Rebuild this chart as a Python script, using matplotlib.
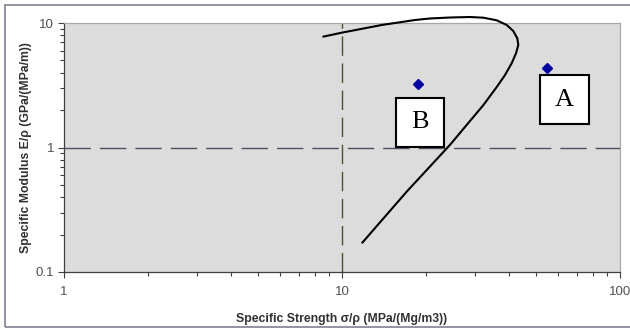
import matplotlib
matplotlib.use("Agg")
import matplotlib.pyplot as plt
from matplotlib.patches import Rectangle
from matplotlib.ticker import LogLocator, FixedLocator, NullFormatter

plt.rcParams['font.family'] = ['Liberation Sans', 'DejaVu Sans']

# Data points (specific strength, specific modulus)
point_labels = ["B", "A"]
point_x = [18.8, 54.6]
point_y = [3.24, 4.35]

# Hand-drawn envelope curve
curve_x = [8.51, 9.98, 13.90, 18.31, 20.73, 24.46, 28.87, 32.24, 36.02, 39.12,
           41.32, 42.71, 43.07, 42.26, 40.77, 38.58, 36.02, 32.24, 28.10, 24.46,
           17.09, 11.78]
curve_y = [7.75, 8.36, 9.64, 10.57, 10.87, 11.07, 11.17, 11.03, 10.51, 9.64,
           8.62, 7.54, 6.66, 5.71, 4.75, 3.82, 3.06, 2.19, 1.52, 1.05,
           0.442, 0.170]

# Label boxes (x0, x1, y0, y1) in data units
box_x0 = [15.65, 51.5]
box_x1 = [23.2, 77.4]
box_y0 = [1.01, 1.545]
box_y1 = [2.50, 3.82]

# Reference lines
ref_x = 10
ref_y = 1

x_ticks = [1, 10, 100]
y_ticks = [0.1, 1, 10]

fig = plt.figure(figsize=(6.3, 3.32), dpi=100)
ax = fig.add_axes([64/630, 1-272/332, (620-64)/630, (272-23)/332])
ax.set_xscale('log')
ax.set_yscale('log')
ax.set_xlim(1, 100)
ax.set_ylim(0.1, 10)
ax.set_facecolor('#dcdcdc')

ax.xaxis.set_major_locator(FixedLocator(x_ticks))
ax.yaxis.set_major_locator(FixedLocator(y_ticks))
ax.set_xticklabels([str(v) for v in x_ticks])
ax.set_yticklabels(['0.1', '1', '10'])
ax.xaxis.set_minor_locator(LogLocator(base=10, subs=range(2, 10)))
ax.yaxis.set_minor_locator(LogLocator(base=10, subs=range(2, 10)))
ax.xaxis.set_minor_formatter(NullFormatter())
ax.yaxis.set_minor_formatter(NullFormatter())

ax.tick_params(axis='both', which='major', direction='out', length=4, width=0.8,
               colors='#404040', labelsize=9.5, labelcolor='#505050')
ax.tick_params(axis='both', which='minor', direction='out', length=3, width=0.8,
               colors='#404040')
ax.tick_params(axis='x', which='major', pad=6)
ax.tick_params(axis='y', which='major', pad=3)

for s in ['left', 'bottom']:
    ax.spines[s].set_color('#404040')
    ax.spines[s].set_linewidth(0.9)
for s in ['top', 'right']:
    ax.spines[s].set_color('#a8a8a8')
    ax.spines[s].set_linewidth(0.9)

ax.axhline(ref_y, color='#505060', lw=1.0, dashes=(19, 6.5), zorder=2)
ax.axvline(ref_x, color='#505030', lw=1.0, dashes=(14, 5.5), zorder=2)

ax.plot(curve_x, curve_y, color='black', lw=1.5, clip_on=False, zorder=4,
        solid_capstyle='butt', solid_joinstyle='round')

ax.plot(point_x, point_y, linestyle='none', marker='D', markersize=5,
        color='#0000a0', zorder=5)

for lab, x0, x1, y0, y1 in zip(point_labels, box_x0, box_x1, box_y0, box_y1):
    ax.add_patch(Rectangle((x0, y0), x1 - x0, y1 - y0, facecolor='white',
                           edgecolor='black', lw=1.5, zorder=3))
    xc = (x0 * x1) ** 0.5
    yc = (y0 * y1) ** 0.5
    ax.text(xc, yc, lab, ha='center', va='center', fontsize=19,
            family=['Liberation Serif', 'DejaVu Serif'], zorder=6)

ax.set_xlabel('Specific Strength σ/ρ (MPa/(Mg/m3))', fontsize=8.8, fontweight='bold',
              color='#303030', labelpad=11)
ax.set_ylabel('Specific Modulus E/ρ (GPa/(MPa/m))', fontsize=8.8, fontweight='bold',
              color='#303030', labelpad=3)

# Outer figure frame
fig.patches.append(Rectangle((4.5/630, 1-327/332), 2, (327-4.5)/332,
                             transform=fig.transFigure, fill=False,
                             edgecolor='#80808f', lw=1.2))

fig.savefig('out.png', dpi=100)
